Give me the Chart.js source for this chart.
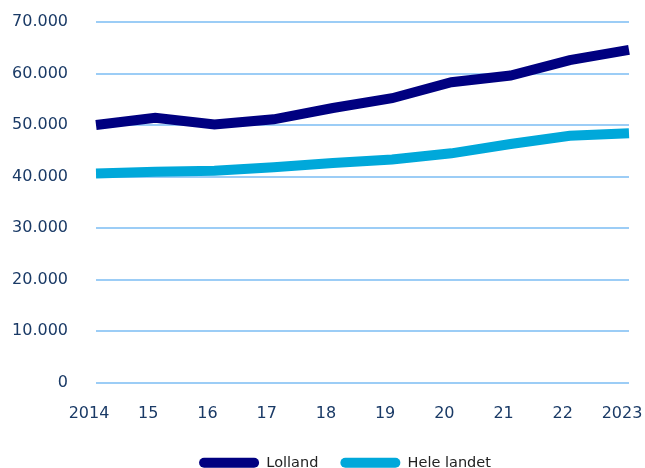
<!DOCTYPE html>
<html>
<head>
<meta charset="utf-8">
<script src="https://cdn.jsdelivr.net/npm/chart.js@4"></script>
<style>
  html, body { margin: 0; padding: 0; background: #fff; }
  #wrap { width: 645px; height: 468px; }
</style>
</head>
<body>
<div id="wrap"><canvas id="myChart"></canvas></div>
<script>
// Data
var aar = ['2014', '15', '16', '17', '18', '19', '20', '21', '22', '2023'];
var lolland = [50000, 51400, 50100, 51100, 53300, 55200, 58300, 59600, 62600, 64600];
var heleLandet = [40600, 40900, 41100, 41800, 42600, 43300, 44500, 46300, 47900, 48400];

var tickColor = '#1a3a66';
var gridColor = '#9ccdf6';

// shift the legend a bit to the right, like the original
var legendShift = {
    id: 'legendShift',
    afterLayout: function(chart) {
        chart.legend.left += 25;
        chart.legend.right += 25;
    }
};

var ctx = document.getElementById('myChart').getContext('2d');
var myChart = new Chart(ctx, {
    type: 'line',
    data: {
        labels: aar,
        datasets: [{
            label: 'Lolland',
            data: lolland,
            borderColor: '#000080',
            backgroundColor: '#000080',
            borderWidth: 10,
            pointRadius: 0,
            tension: 0,
            borderCapStyle: 'butt'
        }, {
            label: 'Hele landet',
            data: heleLandet,
            borderColor: '#00a8da',
            backgroundColor: '#00a8da',
            borderWidth: 10,
            pointRadius: 0,
            tension: 0,
            borderCapStyle: 'butt'
        }]
    },
    plugins: [legendShift],
    options: {
        responsive: true,
        maintainAspectRatio: false,
        animation: false,
        layout: {
            padding: { left: 11, right: 16, top: 22, bottom: -12 }
        },
        plugins: {
            tooltip: { enabled: false },
            legend: {
                position: 'bottom',
                labels: {
                    boxWidth: 60,
                    boxHeight: 10,
                    padding: 22,
                    color: '#222',
                    useBorderRadius: true,
                    borderRadius: 5,
                    font: { family: 'DejaVu Sans', size: 14.5 },
                    generateLabels: function(chart) {
                        return chart.data.datasets.map(function(ds, i) {
                            return {
                                text: ds.label,
                                fillStyle: ds.borderColor,
                                strokeStyle: ds.borderColor,
                                lineWidth: 0,
                                fontColor: '#222',
                                borderRadius: 5,
                                datasetIndex: i
                            };
                        });
                    }
                }
            }
        },
        scales: {
            x: {
                offset: false,
                grid: { display: false, drawTicks: false },
                border: { display: false },
                afterFit: function(scale) {
                    scale.paddingRight = 0;
                    scale.paddingLeft = 0;
                    scale.height = 51;
                },
                ticks: {
                    color: tickColor,
                    padding: 22,
                    labelOffset: -7,
                    maxRotation: 0,
                    autoSkip: false,
                    font: { family: 'DejaVu Sans', size: 16 }
                }
            },
            y: {
                min: 0,
                max: 70000,
                grid: { color: gridColor, lineWidth: 2, drawTicks: false },
                border: { display: false },
                afterFit: function(scale) {
                    scale.paddingTop = 0;
                    scale.paddingBottom = 0;
                    scale.width = 85;
                },
                ticks: {
                    stepSize: 10000,
                    color: tickColor,
                    padding: 28,
                    font: { family: 'DejaVu Sans', size: 16 },
                    callback: function(value) {
                        return value.toLocaleString('da-DK');
                    }
                }
            }
        }
    }
});
</script>
</body>
</html>
